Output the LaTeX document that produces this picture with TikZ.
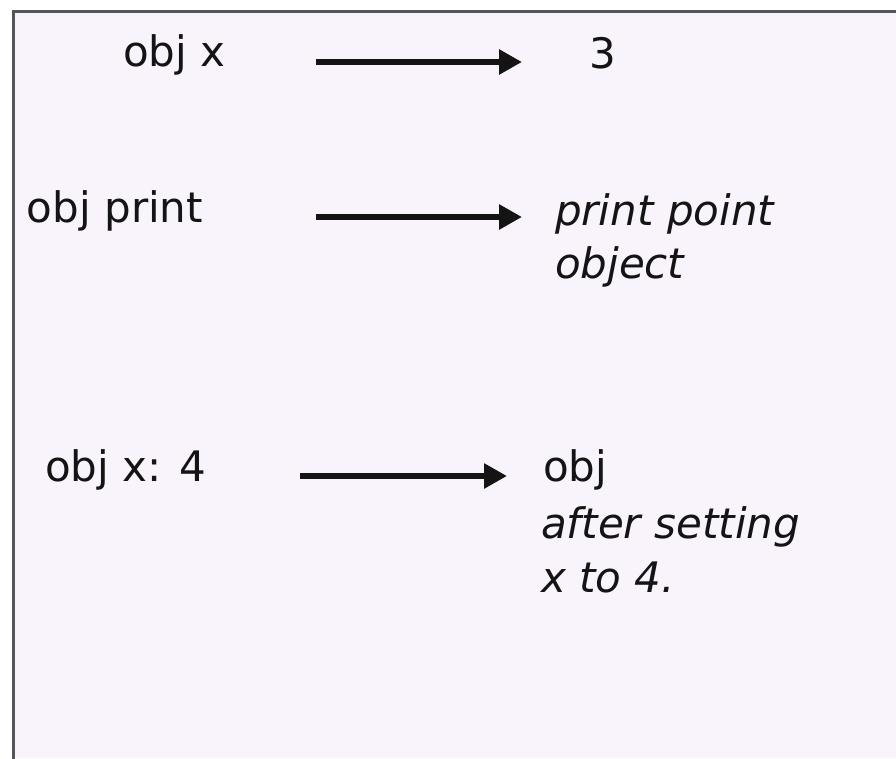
\documentclass[tikz,border=0pt]{standalone}
\usepackage{fontspec}
\setmainfont{DejaVu Sans}
\usetikzlibrary{arrows.meta}
\definecolor{panelbg}{RGB}{249,243,252}
\definecolor{frame}{RGB}{85,85,90}
\definecolor{ink}{RGB}{20,20,20}
\begin{document}
\begin{tikzpicture}[x=1pt,y=-1pt,
  lbl/.style={anchor=base west,inner sep=0pt,outer sep=0pt,text=ink,font=\fontsize{42}{50}\selectfont},
  itl/.style={lbl,font=\fontsize{42}{50}\selectfont\itshape},
  arr/.style={draw=ink,line width=6.5pt,-{Triangle[length=23pt,width=24pt]}}]
\useasboundingbox (0,0) rectangle (896,758);
\fill[white] (0,0) rectangle (896,758);
\fill[panelbg] (13,11) rectangle (896,758);
\draw[frame,line width=3pt] (13,760) -- (13,11) -- (898,11);
% row 1
\node[lbl] (objx) at (123,66) {obj x};
\node[lbl] (three) at (589,68) {3};
\coordinate (a1s) at (316,62);
\coordinate (a1e) at (522,62);
\draw[arr] (a1s) -- (a1e);
% row 2
\node[lbl] (objprint) at (27,222) {obj print};
\node[itl] (pp) at (555,225) {print point};
\node[itl] (obj2) at (555,278) {object};
\coordinate (a2s) at (316,217);
\coordinate (a2e) at (522,217);
\draw[arr] (a2s) -- (a2e);
% row 3
\node[lbl] (objx4) at (45,481) {obj x: 4};
\node[lbl] (obj3) at (543,481) {obj};
\node[itl] (after) at (541,538) {after setting};
\node[itl] (xto) at (541,592) {x to 4.};
\coordinate (a3s) at (300,476);
\coordinate (a3e) at (507,476);
\draw[arr] (a3s) -- (a3e);
\end{tikzpicture}
\end{document}
